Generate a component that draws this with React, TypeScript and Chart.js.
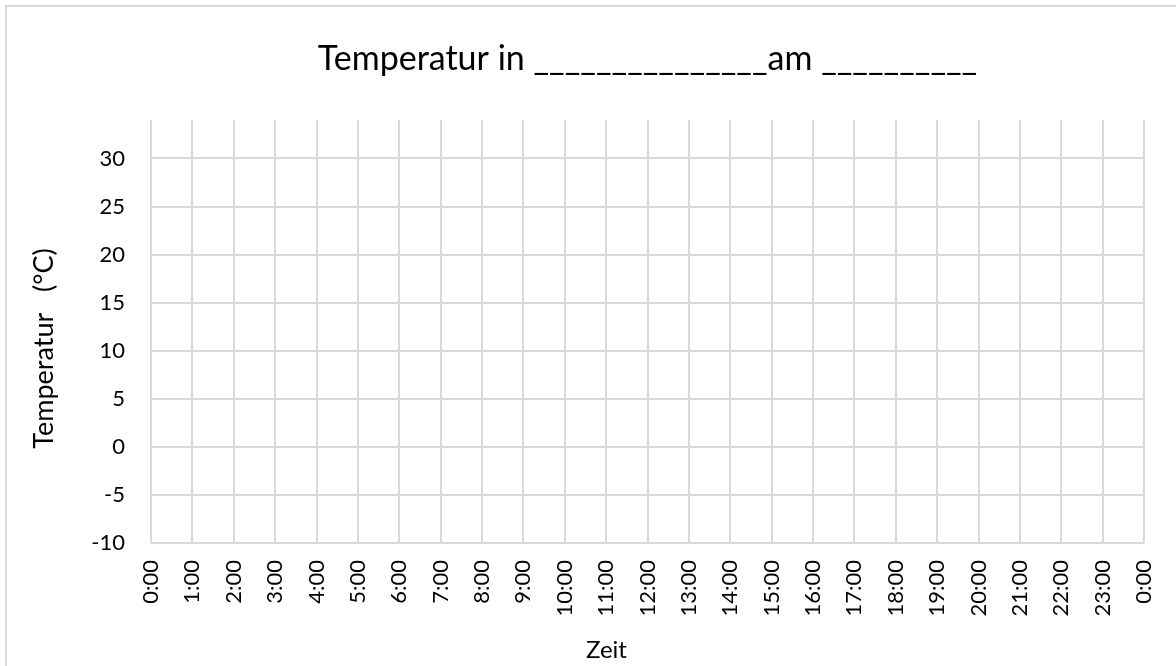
import React, { useEffect, useRef } from 'react';
import { Chart, registerables } from 'chart.js';

Chart.register(...registerables);

// ---- data ----
const hours: string[] = [
  '0:00', '1:00', '2:00', '3:00', '4:00', '5:00', '6:00', '7:00', '8:00', '9:00',
  '10:00', '11:00', '12:00', '13:00', '14:00', '15:00', '16:00', '17:00', '18:00',
  '19:00', '20:00', '21:00', '22:00', '23:00', '0:00',
];
// empty worksheet: no temperatures entered yet
const temperatures: (number | null)[] = [
  null, null, null, null, null, null, null, null, null, null,
  null, null, null, null, null, null, null, null, null,
  null, null, null, null, null, null,
];
const yMin = -10;
const yMax = 34;
const yStep = 5;

const titleText = 'Temperatur in _______________am __________';
const yTitle = 'Temperatur   (°C)';
const xTitle = 'Zeit';

const FONT = 'Lato, "Open Sans", sans-serif';
const GRID = '#d9d9d9';

const titlesPlugin = {
  id: 'worksheetTitles',
  afterDraw(chart: any) {
    const { ctx, chartArea: a } = chart;
    const cx = (a.left + a.right) / 2;
    const cy = (a.top + a.bottom) / 2;
    ctx.save();
    ctx.fillStyle = '#000000';
    ctx.textAlign = 'center';
    ctx.textBaseline = 'alphabetic';
    ctx.font = `34px ${FONT}`;
    ctx.fillText(titleText, cx, a.top - 50);
    ctx.font = `24px ${FONT}`;
    ctx.fillText(xTitle, cx - 41, chart.height - 8);
    ctx.font = `27px ${FONT}`;
    ctx.translate(53, cy + 17);
    ctx.rotate(-Math.PI / 2);
    ctx.fillText(yTitle, 0, 0);
    ctx.restore();
  },
};

export default function App() {
  const canvasRef = useRef<HTMLCanvasElement | null>(null);

  useEffect(() => {
    if (!canvasRef.current) return;
    const chart = new Chart(canvasRef.current, {
      type: 'line',
      data: {
        labels: hours,
        datasets: [
          {
            label: 'Temperatur',
            data: temperatures,
            borderColor: '#4472c4',
            backgroundColor: '#4472c4',
            pointRadius: 0,
          },
        ],
      },
      options: {
        animation: false,
        responsive: false,
        devicePixelRatio: 1,
        layout: { padding: { top: 120, left: 0, right: 32, bottom: 0 } },
        plugins: {
          legend: { display: false },
          title: { display: false },
          tooltip: { enabled: false },
        },
        scales: {
          x: {
            type: 'category',
            offset: false,
            border: { display: false },
            grid: { color: GRID, lineWidth: 2, drawTicks: false },
            ticks: {
              autoSkip: false,
              minRotation: 90,
              maxRotation: 90,
              padding: 17,
              color: '#000000',
              font: { family: FONT, size: 22 },
            },
            afterFit(scale: any) {
              scale.height = 123;
              scale.paddingLeft = 0;
              scale.paddingRight = 0;
            },
          },
          y: {
            type: 'linear',
            min: yMin,
            max: yMax,
            border: { display: false },
            grid: { color: GRID, lineWidth: 2, drawTicks: false },
            ticks: {
              stepSize: yStep,
              includeBounds: false,
              padding: 26,
              color: '#000000',
              font: { family: FONT, size: 22 },
            },
            afterFit(scale: any) {
              scale.width = 151;
            },
          },
        },
      },
      plugins: [titlesPlugin],
    });
    return () => chart.destroy();
  }, []);

  return (
    <div
      style={{
        position: 'absolute',
        left: 0,
        top: 0,
        width: 1176,
        height: 666,
        overflow: 'hidden',
        background: '#ffffff',
      }}
    >
      <div
        style={{
          position: 'absolute',
          left: 5,
          top: 5,
          width: 1300,
          height: 800,
          borderTop: `2px solid ${GRID}`,
          borderLeft: `2px solid ${GRID}`,
        }}
      />
      <canvas
        ref={canvasRef}
        width={1176}
        height={666}
        style={{ position: 'absolute', left: 0, top: 0, width: 1176, height: 666 }}
      />
    </div>
  );
}
